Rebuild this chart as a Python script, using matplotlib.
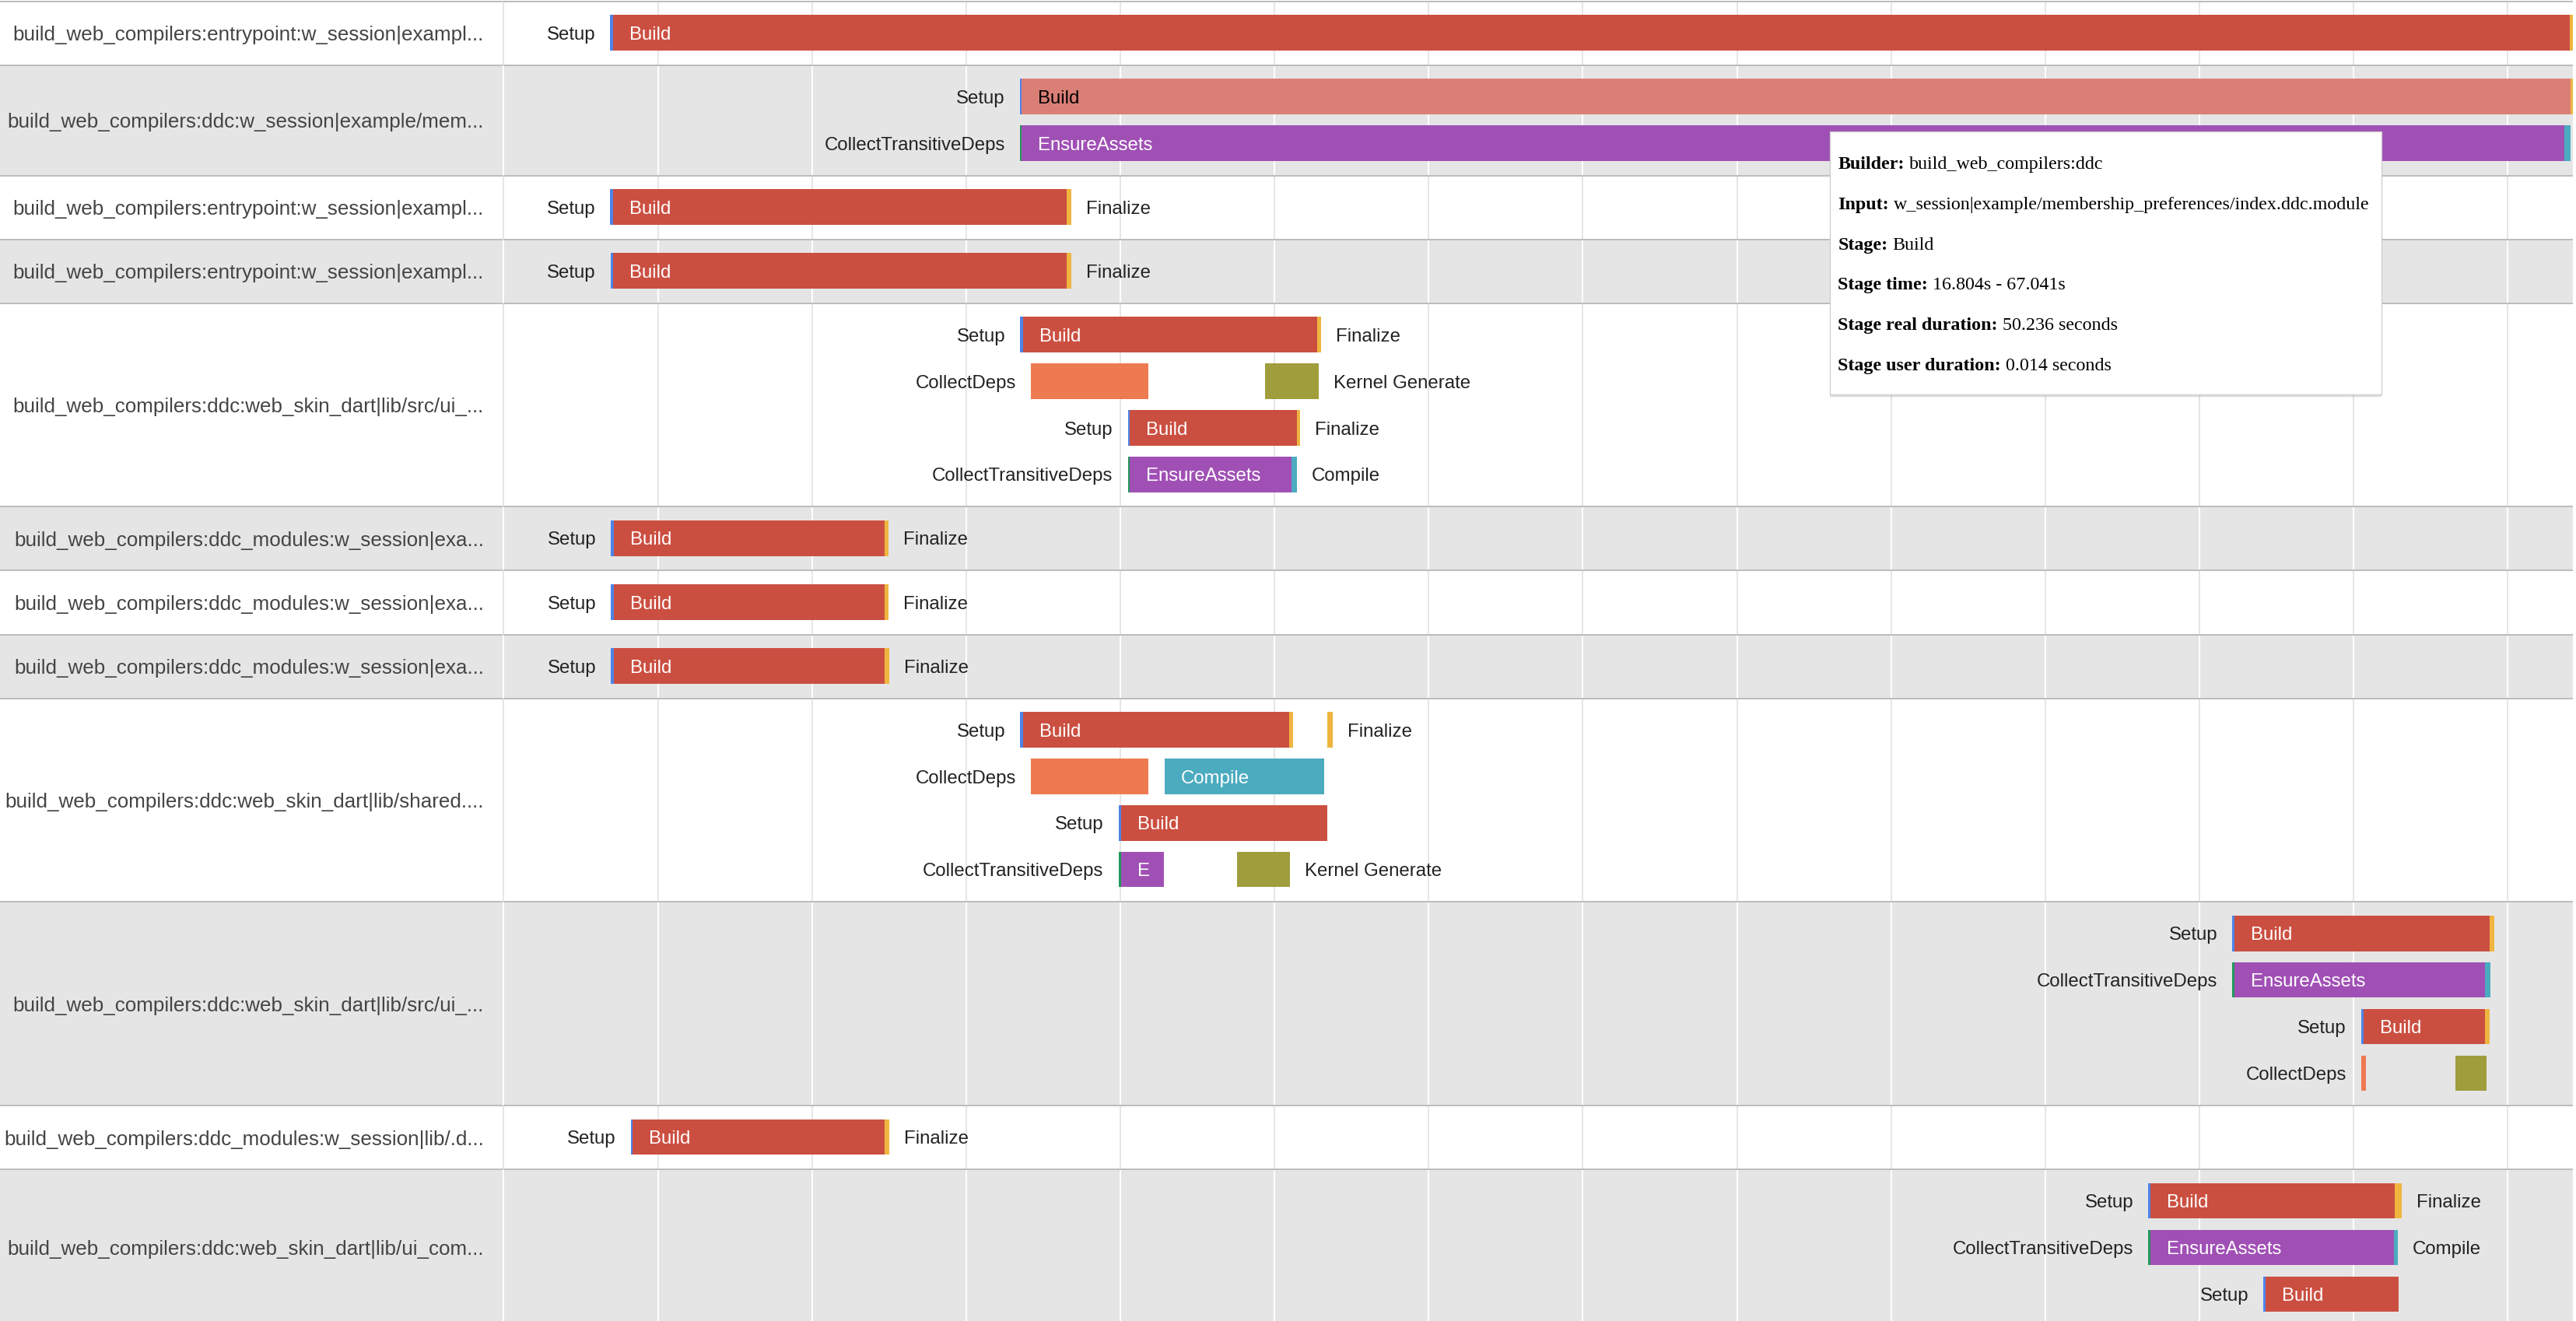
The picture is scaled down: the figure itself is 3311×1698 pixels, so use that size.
import numpy as np
import matplotlib.pyplot as plt
from matplotlib.patches import Rectangle

# ---- data (seconds) -------------------------------------------------------
row_labels = [
    "build_web_compilers:entrypoint:w_session|exampl...",
    "build_web_compilers:ddc:w_session|example/mem...",
    "build_web_compilers:entrypoint:w_session|exampl...",
    "build_web_compilers:entrypoint:w_session|exampl...",
    "build_web_compilers:ddc:web_skin_dart|lib/src/ui_...",
    "build_web_compilers:ddc_modules:w_session|exa...",
    "build_web_compilers:ddc_modules:w_session|exa...",
    "build_web_compilers:ddc_modules:w_session|exa...",
    "build_web_compilers:ddc:web_skin_dart|lib/shared....",
    "build_web_compilers:ddc:web_skin_dart|lib/src/ui_...",
    "build_web_compilers:ddc_modules:w_session|lib/.d...",
    "build_web_compilers:ddc:web_skin_dart|lib/ui_com...",
]

bar_row = [
    0, 0, 0,
    1, 1, 1, 1, 1, 1,
    2, 2, 2,
    3, 3, 3,
    4, 4, 4, 4, 4, 4, 4, 4, 4, 4, 4,
    5, 5, 5,
    6, 6, 6,
    7, 7, 7,
    8, 8, 8, 8, 8, 8, 8, 8, 8, 8, 8,
    9, 9, 9, 9, 9, 9, 9, 9, 9, 9, 9,
    10, 10, 10,
    11, 11, 11, 11, 11, 11, 11, 11,
]
bar_lane = [
    0, 0, 0,
    0, 0, 0, 1, 1, 1,
    0, 0, 0,
    0, 0, 0,
    0, 0, 0, 1, 1, 2, 2, 2, 3, 3, 3,
    0, 0, 0,
    0, 0, 0,
    0, 0, 0,
    0, 0, 0, 0, 1, 1, 2, 2, 3, 3, 3,
    0, 0, 0, 1, 1, 1, 2, 2, 2, 3, 3,
    0, 0, 0,
    0, 0, 0, 1, 1, 1, 2, 2,
]
bar_stage = [
    "Setup", "Build", "Finalize",
    "Setup", "Build", "Finalize", "CollectTransitiveDeps", "EnsureAssets", "Compile",
    "Setup", "Build", "Finalize",
    "Setup", "Build", "Finalize",
    "Setup", "Build", "Finalize", "CollectDeps", "Kernel Generate",
    "Setup", "Build", "Finalize", "CollectTransitiveDeps", "EnsureAssets", "Compile",
    "Setup", "Build", "Finalize",
    "Setup", "Build", "Finalize",
    "Setup", "Build", "Finalize",
    "Setup", "Build", "Finalize", "Finalize", "CollectDeps", "Compile",
    "Setup", "Build", "CollectTransitiveDeps", "EnsureAssets", "Kernel Generate",
    "Setup", "Build", "Finalize", "CollectTransitiveDeps", "EnsureAssets", "Compile",
    "Setup", "Build", "Finalize", "CollectDeps", "Kernel Generate",
    "Setup", "Build", "Finalize",
    "Setup", "Build", "Finalize", "CollectTransitiveDeps", "EnsureAssets", "Compile",
    "Setup", "Build",
]
bar_start = [
    3.45, 3.54, 67.00,
    16.74, 16.804, 67.041, 16.74, 16.80, 66.83,
    3.45, 3.54, 18.26,
    3.46, 3.55, 18.27,
    16.75, 16.85, 26.39, 17.11, 24.70, 20.24, 20.31, 25.72, 20.24, 20.31, 25.55,
    3.48, 3.57, 12.35,
    3.48, 3.57, 12.35,
    3.48, 3.57, 12.36,
    16.75, 16.85, 25.47, 26.71, 17.09, 21.43, 19.94, 20.03, 19.94, 20.03, 23.78,
    56.06, 56.13, 64.40, 56.06, 56.13, 64.25, 60.24, 60.33, 64.27, 60.25, 63.30,
    4.12, 4.19, 12.35,
    53.34, 53.40, 61.32, 53.34, 53.40, 61.30, 57.08, 57.14,
]
bar_end = [
    3.54, 67.00, 67.10,
    16.804, 67.041, 67.10, 16.80, 66.83, 67.04,
    3.54, 18.26, 18.42,
    3.55, 18.27, 18.42,
    16.85, 26.39, 26.52, 20.92, 26.44, 20.31, 25.72, 25.84, 20.31, 25.55, 25.72,
    3.57, 12.35, 12.49,
    3.57, 12.35, 12.49,
    3.57, 12.36, 12.50,
    16.85, 25.47, 25.60, 26.90, 20.92, 26.60, 20.03, 26.71, 20.03, 21.42, 25.51,
    56.13, 64.40, 64.55, 56.13, 64.25, 64.44, 60.33, 64.27, 64.41, 60.40, 64.32,
    4.19, 12.35, 12.51,
    53.40, 61.32, 61.55, 53.40, 61.30, 61.43, 57.14, 61.47,
]

hover_row, hover_stage = 1, "Build"

tooltip_keys = ["Builder:", "Input:", "Stage:", "Stage time:",
                "Stage real duration:", "Stage user duration:"]
tooltip_values = ["build_web_compilers:ddc",
                  "w_session|example/membership_preferences/index.ddc.module",
                  "Build", "16.804s - 67.041s", "50.236 seconds", "0.014 seconds"]

# ---- style / layout -------------------------------------------------------
stage_colors = {
    "Setup": "#4d84e8",
    "Build": "#cb4f41",
    "Finalize": "#efb53f",
    "CollectTransitiveDeps": "#22985a",
    "EnsureAssets": "#a050b5",
    "Compile": "#4babbf",
    "CollectDeps": "#ee7a51",
    "Kernel Generate": "#a09d3d",
}
hover_color = "#da7f76"

SANS = "Liberation Sans"
SERIF = "Liberation Serif"
FIG_W, FIG_H = 3312, 1698
T0_PX, RIGHT_PX = 647.4, 3307
PX_PER_S = 39.63
LANE_PX = 59.9
TOP_PX = 1.5
PAD_TOP, PAD_BOT, BAR_H = 0.175, 0.195, 0.76
BAR_FS = 24 * 0.72
ROW_FS = 26 * 0.72
PAD_IN, GAP_OUT, EDGE_MARGIN = 21, 19, 15
GRAY_BG = "#e5e5e5"

xmax = (RIGHT_PX - T0_PX) / PX_PER_S
axis_w_px = RIGHT_PX - T0_PX

fig = plt.figure(figsize=(FIG_W / 100, FIG_H / 100), dpi=100)
fig.patch.set_facecolor("white")
ax_lab = fig.add_axes([0, 0, T0_PX / FIG_W, 1])
ax = fig.add_axes([T0_PX / FIG_W, 0, axis_w_px / FIG_W, 1])
ax_top = fig.add_axes([0, 0, 1, 1])
for a in (ax_lab, ax, ax_top):
    a.set_axis_off()

y_top = -TOP_PX / LANE_PX
y_bot = (FIG_H - TOP_PX) / LANE_PX
ax.set_xlim(0, xmax)
ax_lab.set_xlim(0, T0_PX)
for a in (ax, ax_lab):
    a.set_ylim(y_bot, y_top)
ax_top.set_xlim(0, FIG_W)
ax_top.set_ylim(FIG_H, 0)

n_rows = len(row_labels)
n_lanes = [max(l for r, l in zip(bar_row, bar_lane) if r == k) + 1 for k in range(n_rows)]
row_top = np.concatenate([[0], np.cumsum([n + PAD_TOP + PAD_BOT for n in n_lanes])])

grid_t = np.arange(0, xmax, 5)
for k in range(n_rows):
    top, bot = row_top[k], row_top[k + 1]
    bg = "white" if k % 2 == 0 else GRAY_BG
    gc = "#e6e6e6" if k % 2 == 0 else "white"
    for a in (ax, ax_lab):
        a.axhspan(top, bot, facecolor=bg, lw=0, zorder=0)
    ax.vlines(grid_t, top, bot, colors=gc, lw=1.44, zorder=1, clip_on=False)
    ax_lab.text(622, (top + bot) / 2 + 0.36 * 26 / LANE_PX, row_labels[k],
                ha="right", va="baseline", fontsize=ROW_FS, family=SANS,
                color="#444444", zorder=4)
for y in row_top:
    for a in (ax, ax_lab):
        a.axhline(y, color="#bdbdbd", lw=1.44, zorder=2)

renderer = fig.canvas.get_renderer()


def text_w(s, size=BAR_FS, family=SANS, weight="normal"):
    t = ax_top.text(0, 0, s, fontsize=size, family=family, weight=weight)
    w = t.get_window_extent(renderer=renderer).width
    t.remove()
    return w


base_off = 0.36 * 24 / LANE_PX
for k in range(n_rows):
    for lane in range(n_lanes[k]):
        idx = [i for i in range(len(bar_row)) if bar_row[i] == k and bar_lane[i] == lane]
        idx.sort(key=lambda i: bar_start[i])
        yc = row_top[k] + PAD_TOP + 0.5 + lane
        occupied = 0.0
        for j, i in enumerate(idx):
            s, e, st = bar_start[i], bar_end[i], bar_stage[i]
            hovered = (k == hover_row and st == hover_stage)
            col = hover_color if hovered else stage_colors[st]
            ax.add_patch(Rectangle((s, yc - BAR_H / 2), e - s, BAR_H,
                                   facecolor=col, lw=0, zorder=3))
            s_px, e_px = s * PX_PER_S, e * PX_PER_S
            w = e_px - s_px
            nxt = bar_start[idx[j + 1]] * PX_PER_S if j + 1 < len(idx) else axis_w_px
            tw = text_w(st)
            yb = yc + base_off
            if tw + 2 * PAD_IN <= w:
                ax.text(s + PAD_IN / PX_PER_S, yb, st, ha="left", va="baseline",
                        fontsize=BAR_FS, family=SANS,
                        color="black" if hovered else "white", zorder=4)
            elif s_px - GAP_OUT - tw >= occupied:
                ax.text(s - GAP_OUT / PX_PER_S, yb, st, ha="right", va="baseline",
                        fontsize=BAR_FS, family=SANS, color="#222222", zorder=4)
            elif e_px + GAP_OUT + tw + EDGE_MARGIN <= nxt:
                ax.text(e + GAP_OUT / PX_PER_S, yb, st, ha="left", va="baseline",
                        fontsize=BAR_FS, family=SANS, color="#222222", zorder=4)
                occupied = e_px + GAP_OUT + tw
            else:
                short = ""
                for n in range(1, len(st)):
                    if PAD_IN + text_w(st[:n]) + PAD_IN / 2 <= w:
                        short = st[:n]
                if short:
                    ax.text(s + PAD_IN / PX_PER_S, yb, short, ha="left", va="baseline",
                            fontsize=BAR_FS, family=SANS, color="white", zorder=4)
            occupied = max(occupied, e_px)

# ---- tooltip --------------------------------------------------------------
TIP_L, TIP_T, TIP_R, TIP_B = 2351.6, 169, 3060.8, 506.7
for dy, al in ((1.5, 0.10), (3.0, 0.08), (4.5, 0.05)):
    ax_top.add_patch(Rectangle((TIP_L, TIP_T + dy), TIP_R - TIP_L, TIP_B - TIP_T,
                               facecolor=(0, 0, 0, al), lw=0, zorder=5))
ax_top.add_patch(Rectangle((TIP_L, TIP_T), TIP_R - TIP_L, TIP_B - TIP_T,
                           facecolor="white", edgecolor="#cccccc", lw=0.9, zorder=6))
TIP_FS = 24 * 0.72
for n, (key, val) in enumerate(zip(tooltip_keys, tooltip_values)):
    yb = TIP_T + 48 + n * 51.8
    ax_top.text(2362.5, yb, key, ha="left", va="baseline", fontsize=TIP_FS,
                family=SERIF, weight="bold", color="black", zorder=7)
    kw = text_w(key, TIP_FS, SERIF, "bold")
    ax_top.text(2362.5 + kw + 6, yb, val, ha="left", va="baseline", fontsize=TIP_FS,
                family=SERIF, color="black", zorder=7)

fig.savefig("out.png", dpi=100, facecolor="white")
